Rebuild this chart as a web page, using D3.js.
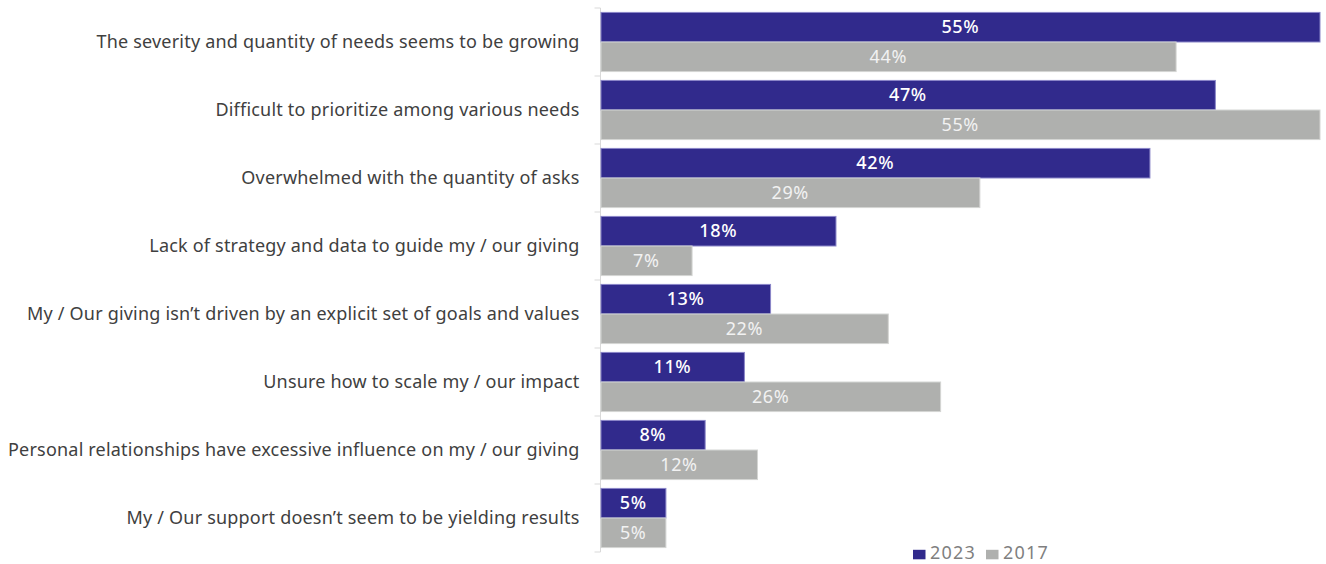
<!DOCTYPE html>
<html>
<head>
<meta charset="utf-8">
<script src="https://cdn.jsdelivr.net/npm/d3@7"></script>
<style>
  html, body { margin: 0; padding: 0; background: #ffffff; }
  svg { display: block; font-family: "Noto Sans", "DejaVu Sans", sans-serif; }
</style>
</head>
<body>
<svg id="chart" width="1326" height="564"></svg>
<script>
// Challenges in giving: share of respondents, 2023 vs 2017
const categories = [
  "The severity and quantity of needs seems to be growing",
  "Difficult to prioritize among various needs",
  "Overwhelmed with the quantity of asks",
  "Lack of strategy and data to guide my / our giving",
  "My / Our giving isn\u2019t driven by an explicit set of goals and values",
  "Unsure how to scale my / our impact",
  "Personal relationships have excessive influence on my / our giving",
  "My / Our support doesn\u2019t seem to be yielding results"
];
const values2023 = [55, 47, 42, 18, 13, 11, 8, 5];
const values2017 = [44, 55, 29, 7, 22, 26, 12, 5];
const seriesNames = ["2023", "2017"];

const colors = { "2023": "#312a8c", "2017": "#afb0ae" };
const strokes = { "2023": "#8a86c8", "2017": "#d4d5d3" };

const svg = d3.select("#chart");

const x = d3.scaleLinear().domain([0, 55]).range([600.5, 1320]);
const y = d3.scaleBand().domain(categories).range([8, 552])
  .paddingInner(0.13).paddingOuter(0.065);
const ySub = d3.scaleBand().domain(seriesNames).range([0, y.bandwidth()]);

const rows = categories.map((c, i) => ({
  category: c,
  bars: [
    { series: "2023", value: values2023[i] },
    { series: "2017", value: values2017[i] }
  ]
}));

// Category axis on the left, labels right-aligned against the bars
const yAxis = d3.axisLeft(y).tickSize(0).tickPadding(21);
const axisG = svg.append("g").attr("transform", `translate(${x(0)},0)`).call(yAxis);
axisG.attr("font-family", null).attr("font-size", null);
axisG.select(".domain").remove();
axisG.selectAll("text")
  .attr("fill", "#404040")
  .style("font-size", "18px")
  .style("letter-spacing", "0.2px");

// Axis spine and separators between categories
const boundaries = d3.range(categories.length + 1).map(i => 8 + i * y.step());
svg.append("line")
  .attr("x1", x(0)).attr("x2", x(0))
  .attr("y1", boundaries[0]).attr("y2", boundaries[boundaries.length - 1])
  .attr("stroke", "#d9d9d9").attr("stroke-width", 1);
svg.selectAll("line.sep").data(boundaries).join("line")
  .attr("class", "sep")
  .attr("x1", x(0) - 6).attr("x2", x(0))
  .attr("y1", d => d).attr("y2", d => d)
  .attr("stroke", "#d9d9d9").attr("stroke-width", 1);

const groups = svg.selectAll("g.row").data(rows).join("g")
  .attr("class", "row")
  .attr("transform", d => `translate(0,${y(d.category)})`);

groups.selectAll("rect").data(d => d.bars).join("rect")
  .attr("x", x(0) + 0.5)
  .attr("y", d => ySub(d.series))
  .attr("width", d => x(d.value) - x(0) - 0.5)
  .attr("height", ySub.bandwidth())
  .attr("fill", d => colors[d.series])
  .attr("stroke", d => strokes[d.series])
  .attr("stroke-width", 1);

groups.selectAll("text.val").data(d => d.bars).join("text")
  .attr("class", "val")
  .attr("x", d => (x(0) + x(d.value)) / 2)
  .attr("y", d => ySub(d.series) + ySub.bandwidth() / 2)
  .attr("dy", "0.35em")
  .attr("text-anchor", "middle")
  .attr("fill", d => d.series === "2023" ? "#ffffff" : "#f2f2f2")
  .style("font-size", "18px")
  .style("letter-spacing", "0.6px")
  .style("font-weight", d => d.series === "2023" ? 500 : 400)
  .text(d => d.value + "%");

// Legend
const legend = svg.append("g").attr("transform", "translate(913,552.3)");
const legendItems = legend.selectAll("g").data(seriesNames).join("g")
  .attr("transform", (d, i) => `translate(${i * 73},0)`);
legendItems.append("rect")
  .attr("x", 0).attr("y", -2.5)
  .attr("width", 12.5).attr("height", 9.5)
  .attr("fill", d => colors[d]);
legendItems.append("text")
  .attr("x", 17).attr("y", 0).attr("dy", "0.35em")
  .attr("fill", "#7f7f7f")
  .style("font-size", "18px")
  .style("letter-spacing", "1.2px")
  .text(d => d);
</script>
</body>
</html>
